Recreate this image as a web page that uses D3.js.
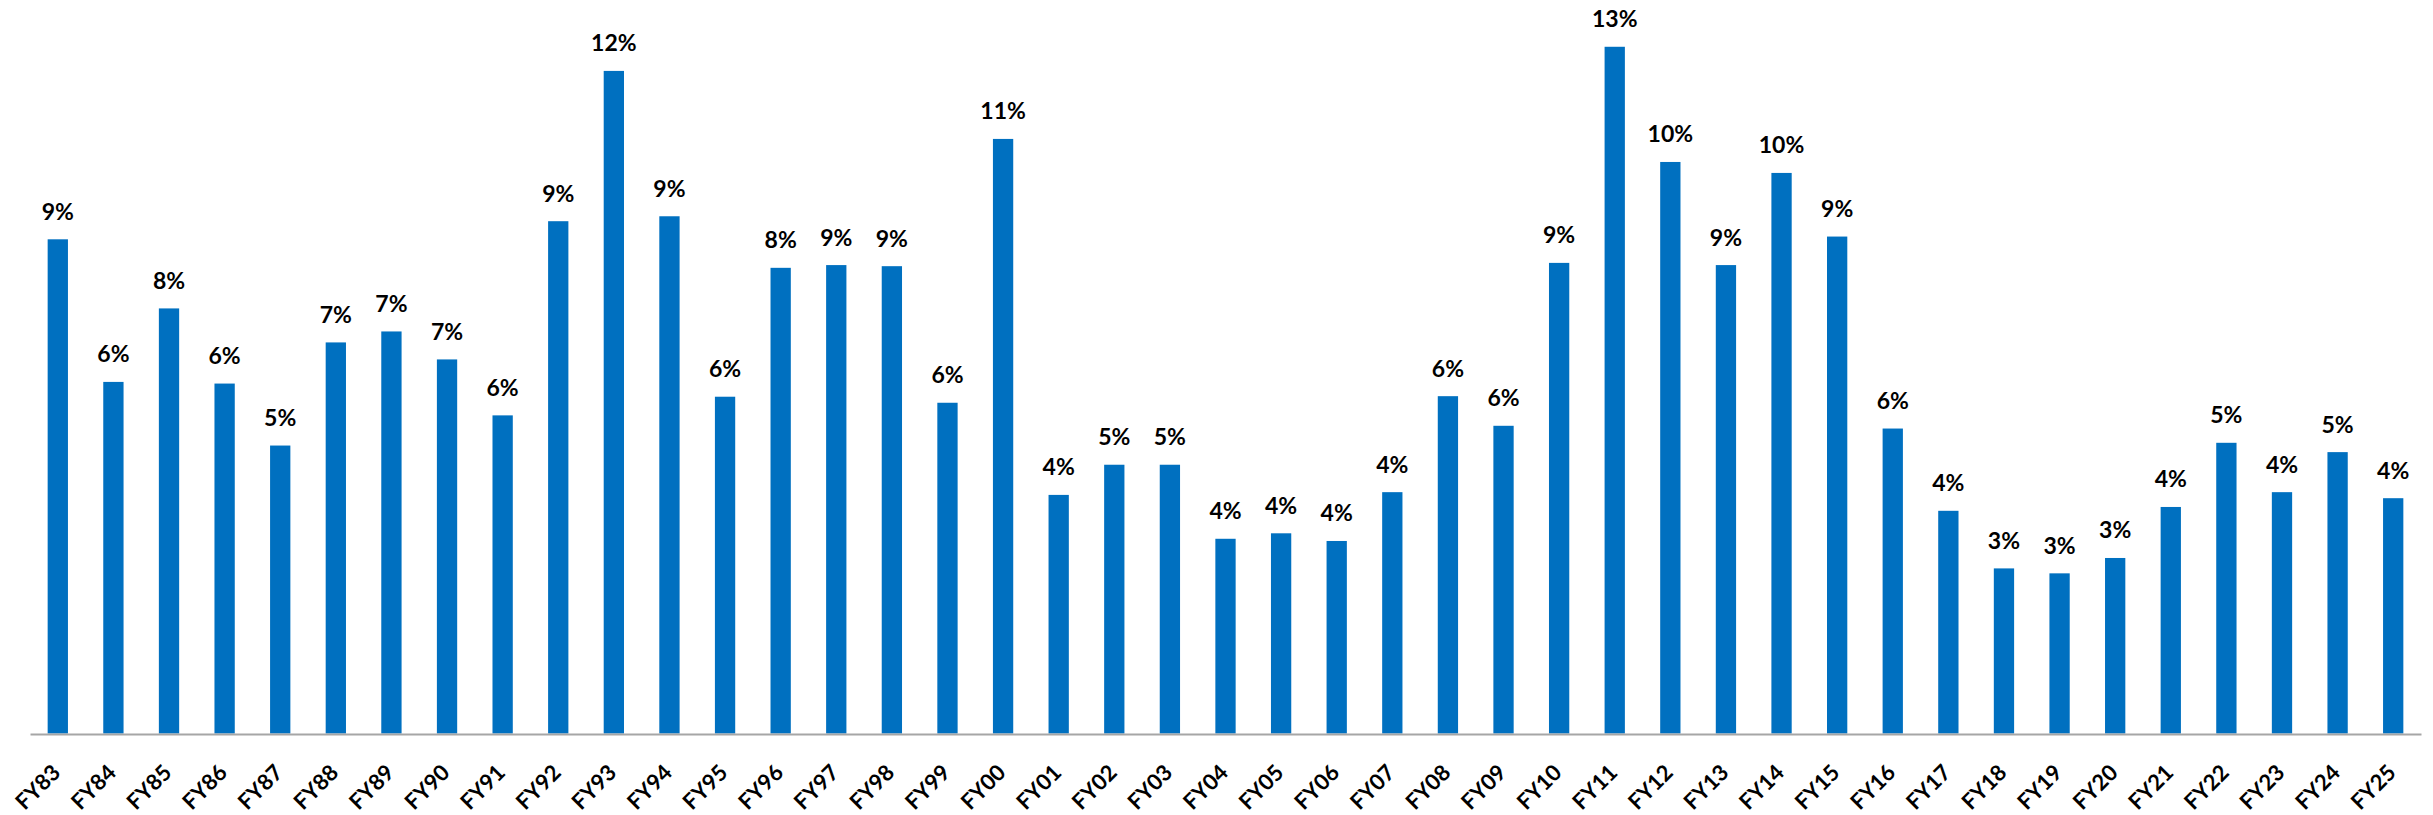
<!DOCTYPE html>
<html>
<head>
<meta charset="utf-8">
<script src="https://cdn.jsdelivr.net/npm/d3@7"></script>
<style>
  html, body { margin: 0; padding: 0; background: #ffffff; }
  svg { display: block; }
</style>
</head>
<body>
<div id="chart"></div>
<script>
const categories = ["FY83","FY84","FY85","FY86","FY87","FY88","FY89","FY90","FY91","FY92","FY93","FY94","FY95","FY96","FY97","FY98","FY99","FY00","FY01","FY02","FY03","FY04","FY05","FY06","FY07","FY08","FY09","FY10","FY11","FY12","FY13","FY14","FY15","FY16","FY17","FY18","FY19","FY20","FY21","FY22","FY23","FY24","FY25"];

const values = [9.01, 6.41, 7.75, 6.38, 5.25, 7.13, 7.33, 6.82, 5.80, 9.34, 12.08, 9.43, 6.14, 8.49, 8.54, 8.52, 6.03, 10.84, 4.35, 4.90, 4.90, 3.55, 3.65, 3.51, 4.40, 6.15, 5.61, 8.58, 12.52, 10.42, 8.54, 10.22, 9.06, 5.56, 4.06, 3.01, 2.92, 3.20, 4.13, 5.30, 4.40, 5.13, 4.29];

const labels = ["9%","6%","8%","6%","5%","7%","7%","7%","6%","9%","12%","9%","6%","8%","9%","9%","6%","11%","4%","5%","5%","4%","4%","4%","4%","6%","6%","9%","13%","10%","9%","10%","9%","6%","4%","3%","3%","3%","4%","5%","4%","5%","4%"];

const W = 2433, H = 815;
const FONT = "Lato, 'Open Sans', sans-serif";
const svg = d3.select("#chart").append("svg").attr("width", W).attr("height", H);

const x = d3.scaleBand().domain(categories).range([30, 2421]).paddingInner(0.635).paddingOuter(0.3175);
const y = d3.scaleLinear().domain([0, 13]).range([733.5, 733.5 - 13 * 54.85]);

const data = categories.map((c, i) => ({ c, v: values[i], l: labels[i] }));

svg.append("g").selectAll("rect").data(data).join("rect")
  .attr("x", d => x(d.c))
  .attr("y", d => y(d.v))
  .attr("width", x.bandwidth())
  .attr("height", d => y(0) - y(d.v))
  .attr("fill", "#0070C0");

svg.append("g").selectAll("text").data(data).join("text")
  .attr("x", d => x(d.c) + x.bandwidth() / 2)
  .attr("y", d => y(d.v) - 19.5)
  .attr("text-anchor", "middle")
  .style("font-family", FONT)
  .style("font-weight", "bold")
  .style("font-size", "23px")
  .attr("fill", "#000000")
  .text(d => d.l);

const axis = svg.append("g").attr("transform", "translate(0,734)")
  .call(d3.axisBottom(x).tickSize(0).tickSizeOuter(0));
axis.select(".domain").attr("stroke", "#A6A6A6").attr("stroke-width", 2);
axis.selectAll(".tick text")
  .attr("x", 0).attr("y", 0).attr("dy", null)
  .attr("transform", "translate(4,40) rotate(-45)")
  .attr("text-anchor", "end")
  .style("font-family", FONT)
  .style("font-weight", "bold")
  .style("font-size", "22px")
  .attr("fill", "#000000");
</script>
</body>
</html>
